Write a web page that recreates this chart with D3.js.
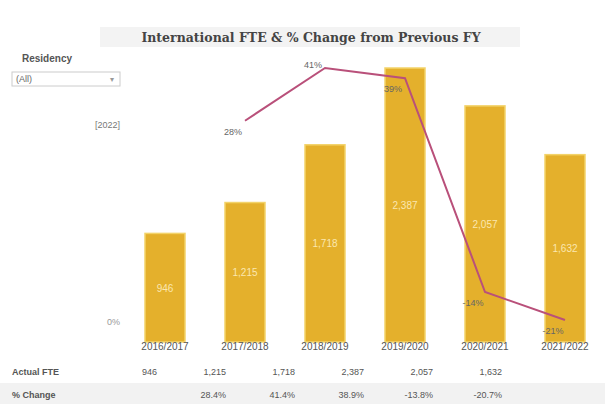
<!DOCTYPE html>
<html>
<head>
<meta charset="utf-8">
<script src="https://cdn.jsdelivr.net/npm/d3@7"></script>
<style>
  body { margin: 0; background: #fff; font-family: "Liberation Sans", Arial, sans-serif; }
</style>
</head>
<body>
<script>
// Chart data
var years = ['2016/2017', '2017/2018', '2018/2019', '2019/2020', '2020/2021', '2021/2022'];
var fte = [946, 1215, 1718, 2387, 2057, 1632];
var pctChange = [null, 28.4, 41.4, 38.9, -13.8, -20.7];

var width = 605,
  height = 404;

var svg = d3.select('body')
  .append('svg')
  .attr('width', width)
  .attr('height', height);

// Title band
svg.append('rect')
  .attr('x', 100).attr('y', 27)
  .attr('width', 420).attr('height', 20)
  .attr('fill', '#f3f3f3');
svg.append('text')
  .attr('x', 311).attr('y', 42)
  .attr('text-anchor', 'middle')
  .attr('font-family', '"DejaVu Serif", serif')
  .attr('font-weight', 'bold')
  .attr('font-size', 12.5)
  .attr('fill', '#444')
  .text('International FTE & % Change from Previous FY');

// Filter control on the left
svg.append('text')
  .attr('x', 22).attr('y', 62)
  .attr('font-size', 10).attr('font-weight', 'bold').attr('fill', '#555')
  .text('Residency');
svg.append('rect')
  .attr('x', 12).attr('y', 72).attr('width', 108).attr('height', 14)
  .attr('fill', '#fff').attr('stroke', '#ccc');
svg.append('text')
  .attr('x', 16).attr('y', 82)
  .attr('font-size', 9).attr('fill', '#666')
  .text('(All)');
svg.append('text')
  .attr('x', 110).attr('y', 82)
  .attr('font-size', 8).attr('fill', '#999')
  .text('\u25BE');
svg.append('text')
  .attr('x', 120).attr('y', 128)
  .attr('text-anchor', 'end')
  .attr('font-size', 9).attr('fill', '#777')
  .text('[2022]');
svg.append('text')
  .attr('x', 120).attr('y', 325)
  .attr('text-anchor', 'end')
  .attr('font-size', 9).attr('fill', '#999')
  .text('0%');

// Scales
var x = d3.scaleBand()
  .domain(years)
  .range([125, 605])
  .paddingInner(0.5)
  .paddingOuter(0.25);

// table columns sit a bit left of the bars
var xTable = d3.scalePoint()
  .domain(years)
  .range([157, 502]);

var y = d3.scaleLinear()
  .domain([0, 2387])
  .range([342, 68]);

var yPct = d3.scaleLinear()
  .domain([-20.7, 41.4])
  .range([320, 68]);

// Bars
svg.append('g')
  .selectAll('rect')
  .data(fte)
  .enter()
  .append('rect')
  .attr('x', function(d, i) { return x(years[i]); })
  .attr('y', function(d) { return y(d); })
  .attr('width', x.bandwidth())
  .attr('height', function(d) { return y(0) - y(d); })
  .attr('fill', '#e4b02c')
  .attr('stroke', '#f3d36a')
  .attr('stroke-width', 1.5);

// Bar value labels
svg.append('g')
  .selectAll('text')
  .data(fte)
  .enter()
  .append('text')
  .attr('x', function(d, i) { return x(years[i]) + x.bandwidth() / 2; })
  .attr('y', function(d) { return (y(d) + y(0)) / 2 + 4; })
  .attr('text-anchor', 'middle')
  .attr('font-size', 10)
  .attr('fill', '#fbe7b0')
  .text(function(d) { return d3.format(',')(d); });

// % change line
var pts = pctChange
  .map(function(d, i) { return { year: years[i], v: d }; })
  .filter(function(d) { return d.v !== null; });

var line = d3.line()
  .x(function(d) { return x(d.year) + x.bandwidth() / 2; })
  .y(function(d) { return yPct(d.v); });

svg.append('path')
  .datum(pts)
  .attr('fill', 'none')
  .attr('stroke', '#b9507a')
  .attr('stroke-width', 2)
  .attr('d', line);

svg.append('g')
  .selectAll('text')
  .data(pts)
  .enter()
  .append('text')
  .attr('x', function(d) { return x(d.year) + x.bandwidth() / 2 - 12; })
  .attr('y', function(d) { return yPct(d.v) + (d.v === 41.4 ? 0 : 14); })
  .attr('text-anchor', 'middle')
  .attr('font-size', 9)
  .attr('fill', '#666')
  .text(function(d) { return Math.round(d.v) + '%'; });

// Category labels
svg.append('g')
  .selectAll('text')
  .data(years)
  .enter()
  .append('text')
  .attr('x', function(d) { return x(d) + x.bandwidth() / 2; })
  .attr('y', 350)
  .attr('text-anchor', 'middle')
  .attr('font-size', 10)
  .attr('fill', '#555')
  .text(function(d) { return d; });

// Table rows
svg.append('rect')
  .attr('x', 0).attr('y', 383)
  .attr('width', width).attr('height', 21)
  .attr('fill', '#f2f2f2');

svg.append('text')
  .attr('x', 12).attr('y', 375)
  .attr('font-size', 9).attr('font-weight', 'bold').attr('fill', '#555')
  .text('Actual FTE');
svg.append('text')
  .attr('x', 12).attr('y', 398)
  .attr('font-size', 9).attr('font-weight', 'bold').attr('fill', '#555')
  .text('% Change');

svg.append('g')
  .selectAll('text')
  .data(fte)
  .enter()
  .append('text')
  .attr('x', function(d, i) { return xTable(years[i]); })
  .attr('y', 375)
  .attr('text-anchor', 'end')
  .attr('font-size', 9)
  .attr('fill', '#555')
  .text(function(d) { return d3.format(',')(d); });

svg.append('g')
  .selectAll('text')
  .data(pts)
  .enter()
  .append('text')
  .attr('x', function(d) { return xTable(d.year); })
  .attr('y', 398)
  .attr('text-anchor', 'end')
  .attr('font-size', 9)
  .attr('fill', '#555')
  .text(function(d) { return d.v.toFixed(1) + '%'; });
</script>
</body>
</html>
